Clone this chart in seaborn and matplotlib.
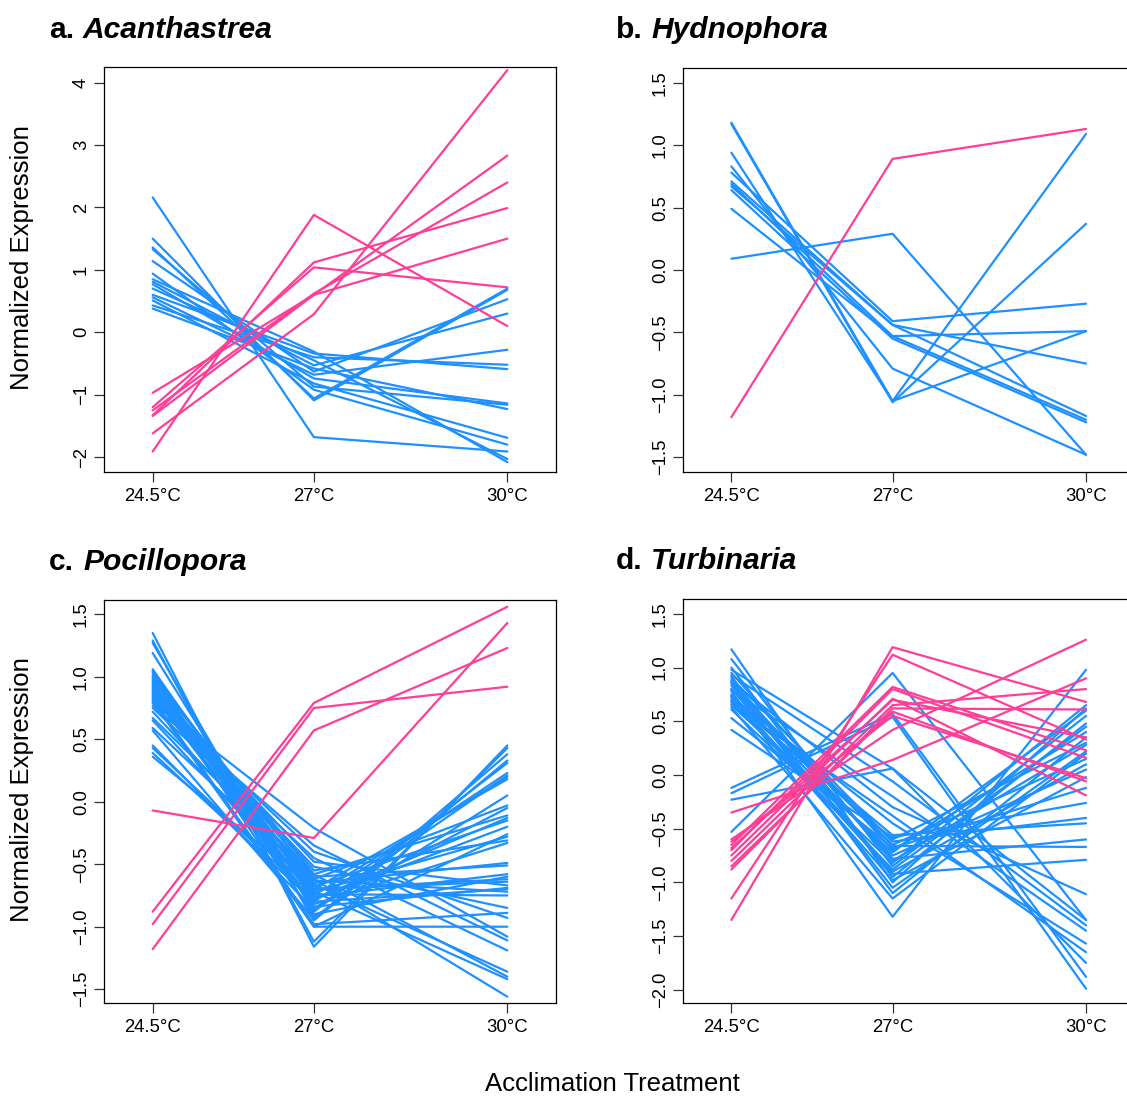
import matplotlib
matplotlib.use("Agg")
import matplotlib.pyplot as plt
import pandas as pd
import seaborn as sns

# Acclimation temperatures (°C) and their tick labels
temps = [24.5, 27.0, 30.0]
temp_labels = ["24.5°C", "27°C", "30°C"]

# Normalized expression per gene: (24.5°C, 27°C, 30°C)
acan_up = [
    (-1.91, 1.88, 0.10), (-1.62, 0.29, 4.20), (-1.33, 1.12, 1.99),
    (-1.20, 1.04, 0.72), (-1.34, 0.60, 2.83), (-1.25, 0.62, 2.40),
    (-0.97, 0.60, 1.50),
]
acan_down = [
    (2.16, -1.68, -1.91), (1.50, -1.09, 0.68), (1.36, -1.06, 0.70),
    (1.33, -0.87, -1.16), (1.14, -0.63, 0.53), (0.94, -0.92, -1.80),
    (0.85, -0.31, -2.08), (0.81, -0.53, 0.30), (0.77, -0.74, -1.14),
    (0.60, -0.34, -0.59), (0.56, -0.68, -0.28), (0.51, -0.82, -1.69),
    (0.43, -0.40, -0.52), (0.38, -0.58, -1.23), (0.70, -0.45, -2.03),
]

hydn_up = [(-1.18, 0.89, 1.13)]
hydn_down = [
    (0.09, 0.29, -1.48), (1.18, -1.05, 1.09), (1.17, -1.06, 0.37),
    (0.94, -1.05, -0.49), (0.83, -0.79, -1.48), (0.78, -0.41, -0.27),
    (0.71, -0.44, -1.17), (0.69, -0.53, -0.49), (0.67, -0.44, -0.75),
    (0.64, -0.55, -1.22), (0.49, -0.53, -1.20),
]

poci_up = [
    (-0.07, -0.29, 1.43), (-0.88, 0.79, 1.56),
    (-0.98, 0.75, 0.92), (-1.18, 0.57, 1.23),
]
poci_down = [
    (1.35, -1.16, 0.45), (1.29, -1.12, 0.43), (1.27, -0.95, 0.33),
    (1.19, -0.88, 0.31), (1.06, -0.80, 0.23), (1.05, -0.75, 0.20),
    (1.04, -0.70, 0.18), (1.03, -0.92, 0.05), (1.01, -0.62, -0.03),
    (1.00, -0.85, -0.05), (0.99, -0.58, -0.11), (0.98, -0.78, -0.13),
    (0.97, -0.68, -0.15), (0.96, -1.00, -0.26), (0.95, -0.72, -0.28),
    (0.94, -0.55, -0.31), (0.93, -0.82, -0.33), (0.92, -0.65, -0.49),
    (0.91, -0.60, -0.51), (0.90, -0.76, -0.58), (0.89, -0.90, -0.60),
    (0.88, -0.70, -0.64), (0.87, -0.48, -0.67), (0.86, -0.84, -0.69),
    (0.85, -0.63, -0.72), (0.84, -0.74, -0.75), (0.83, -0.52, -0.85),
    (0.82, -0.98, -0.89), (0.81, -0.40, -0.93), (0.80, -1.00, -1.00),
    (0.79, -0.21, -1.08), (0.77, -0.35, -1.11), (0.75, -0.45, -1.19),
    (0.72, -0.66, -1.36), (0.67, -0.58, -1.40), (0.65, -0.72, -1.42),
    (0.59, -0.62, -1.56), (0.57, -0.94, 0.38), (0.45, -0.86, 0.21),
    (0.43, -0.78, -0.20), (0.39, -0.80, -0.70), (0.36, -0.70, -0.62),
]

turb_up = [
    (-1.35, 1.19, 0.68), (-1.15, 1.12, 0.33), (-0.35, 0.14, 0.90),
    (-0.60, 0.42, 1.26), (-0.65, 0.82, 0.23), (-0.70, 0.80, 0.16),
    (-0.75, 0.71, -0.19), (-0.80, 0.65, 0.80), (-0.85, 0.59, -0.06),
    (-0.88, 0.62, 0.61), (-0.62, 0.55, -0.03), (-0.68, 0.70, 0.35),
]
turb_down = [
    (1.17, -1.00, 0.62), (1.08, -0.85, 0.55), (1.00, -0.95, 0.48),
    (0.95, -0.70, 0.40), (0.92, -1.10, 0.35), (0.88, -0.80, 0.28),
    (0.85, -1.05, 0.22), (0.83, -0.65, 0.15), (0.80, -0.90, 0.10),
    (0.78, -1.32, 0.98), (0.75, -0.75, 0.05), (0.72, -0.98, -0.02),
    (0.70, -0.60, 0.30), (0.68, -0.88, 0.45), (0.65, -0.72, 0.60),
    (0.63, -1.15, 0.20), (0.61, -0.82, 0.65), (0.53, -0.68, -0.12),
    (0.42, -0.58, -0.26), (0.90, -0.62, -0.40), (0.86, -0.78, -0.60),
    (0.80, -0.66, -0.67), (0.74, -0.92, -0.79), (0.69, -0.56, -0.45),
    (0.98, 0.06, -1.35), (0.93, -0.06, -1.40), (0.87, -0.30, -1.11),
    (0.79, -0.20, -1.45), (0.73, -0.45, -1.57), (0.66, -0.38, -1.65),
    (-0.53, 0.95, -1.35), (-0.12, 0.57, -1.88), (-0.17, 0.54, -1.99),
    (-0.23, 0.06, -1.75),
]

BLUE = "#1E90FF"
PINK = "#FF3E96"

W, H = 1127, 1096
sns.set_style("white")
plt.rcParams["font.family"] = ["Liberation Sans", "DejaVu Sans"]
plt.rcParams["axes.unicode_minus"] = True
plt.rcParams["text.color"] = "black"
plt.rcParams["axes.labelcolor"] = "black"
plt.rcParams["xtick.color"] = "black"
plt.rcParams["ytick.color"] = "black"

fig = plt.figure(figsize=(W / 100, H / 100), dpi=100)


def to_long(up, down):
    rows = []
    for trend, genes in (("down", down), ("up", up)):
        for i, vals in enumerate(genes):
            for t, v in zip(temps, vals):
                rows.append({"gene": f"{trend}{i}", "temp": t,
                             "expr": v, "trend": trend})
    return pd.DataFrame(rows)


def add_panel(box_px, up, down, ylim, yticks, ylabels):
    x0, y0, x1, y1 = box_px
    ax = fig.add_axes([x0 / W, 1 - y1 / H, (x1 - x0) / W, (y1 - y0) / H])
    df = to_long(up, down)
    sns.lineplot(data=df, x="temp", y="expr", units="gene", estimator=None,
                 hue="trend", hue_order=["down", "up"],
                 palette={"down": BLUE, "up": PINK}, legend=False,
                 linewidth=1.6, ax=ax)
    ax.set_xlim(23.745, 30.755)
    ax.set_ylim(*ylim)
    ax.set_xticks(temps)
    ax.set_xticklabels(temp_labels)
    ax.set_yticks(yticks)
    ax.set_yticklabels(ylabels, rotation=90, va="center")
    ax.set_xlabel("")
    ax.set_ylabel("")
    ax.tick_params(axis="both", direction="out", length=7, width=0.9,
                   color="#333333", labelsize=13.3, labelcolor="black")
    ax.tick_params(axis="y", pad=3)
    ax.tick_params(axis="x", pad=4)
    ax.tick_params(bottom=True, left=True)
    for s in ax.spines.values():
        s.set_color("black")
        s.set_linewidth(0.9)
    return ax


def fmt(vals, decimals):
    return [f"{v:.{decimals}f}".replace("-", "\u2212") for v in vals]


ticks_a = [-2, -1, 0, 1, 2, 3, 4]
ticks_bc = [-1.5, -1.0, -0.5, 0.0, 0.5, 1.0, 1.5]
ticks_d = [-2.0, -1.5, -1.0, -0.5, 0.0, 0.5, 1.0, 1.5]

add_panel((104, 67.3, 556, 472.3), acan_up, acan_down,
          (-2.243, 4.245), ticks_a, fmt(ticks_a, 0))
add_panel((682.7, 68.3, 1134.7, 472.3), hydn_up, hydn_down,
          (-1.621, 1.616), ticks_bc, fmt(ticks_bc, 1))
add_panel((104, 600, 556, 1003.3), poci_up, poci_down,
          (-1.613, 1.614), ticks_bc, fmt(ticks_bc, 1))
add_panel((682.7, 599.3, 1134.7, 1003.3), turb_up, turb_down,
          (-2.126, 1.636), ticks_d, fmt(ticks_d, 1))


def panel_title(x_letter, x_genus, y_base, letter, genus):
    fig.text(x_letter / W, 1 - y_base / H, letter, fontsize=21.6,
             fontweight="bold", va="baseline", ha="left", color="black")
    fig.text(x_genus / W, 1 - y_base / H, genus, fontsize=21.6,
             fontweight="bold", fontstyle="italic", va="baseline", ha="left",
             color="black")


panel_title(49, 83, 37.5, "a.", "Acanthastrea")
panel_title(616, 651, 37.5, "b.", "Hydnophora")
panel_title(49, 83, 569.5, "c.", "Pocillopora")
panel_title(616, 651, 568.5, "d.", "Turbinaria")

for yc in (258, 790):
    fig.text(22 / W, 1 - yc / H, "Normalized Expression", fontsize=18.5,
             rotation=90, ha="center", va="center", color="black")
fig.text(612 / W, 1 - 1084 / H, "Acclimation Treatment", fontsize=18.5,
         ha="center", va="center", color="black")

fig.savefig("out.png", dpi=100, facecolor="white")
